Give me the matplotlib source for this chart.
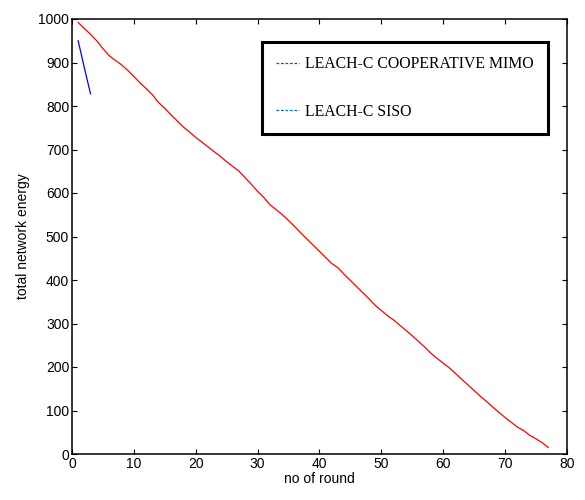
import matplotlib
matplotlib.use('Agg')
from matplotlib import pyplot as plt
from matplotlib.lines import Line2D

# total network energy per round
rounds_mimo = list(range(1, 78))
energy_mimo = [992, 978, 965, 950, 932, 916, 905, 895, 882, 868,
               853, 840, 826, 808, 795, 780, 766, 752, 740, 728,
               717, 706, 695, 684, 672, 661, 650, 635, 620, 604,
               590, 573, 562, 550, 537, 523, 508, 494, 480, 466,
               452, 438, 428, 413, 399, 385, 371, 357, 342, 330,
               318, 308, 296, 284, 272, 259, 246, 232, 220, 209,
               198, 185, 172, 159, 146, 133, 121, 108, 96, 84,
               73, 62, 54, 43, 35, 26, 15]

rounds_siso = [1, 2, 3]
energy_siso = [950, 888, 828]

labels = ['LEACH-C COOPERATIVE MIMO', 'LEACH-C SISO']

plt.rcParams['font.family'] = ['Liberation Sans', 'DejaVu Sans']

fig = plt.figure(figsize=(5.85, 5.0), dpi=100)
ax = fig.add_axes([0.123, 0.092, 0.846, 0.870])

ax.plot(rounds_mimo, energy_mimo, c='#ff0000', lw=0.9)
ax.plot(rounds_siso, energy_siso, c='#0000ff', lw=0.9)

ax.set_xlim(0, 80)
ax.set_ylim(0, 1000)
ax.set_xticks(range(0, 81, 10))
ax.set_yticks(range(0, 1001, 100))
ax.tick_params(axis='both', which='major', direction='in', length=3.5,
               width=0.8, labelsize=10, top=True, right=True, pad=2)
for s in ax.spines.values():
    s.set_linewidth(1.1)

ax.set_xlabel('no of round', fontsize=10, labelpad=1)
ax.set_ylabel('total network energy', fontsize=10, labelpad=6)

# legend with dashed handles and a heavy frame
handles = [Line2D([], [], c='#ff0000', lw=0.9, ls=(0, (2.2, 1.4))),
           Line2D([], [], c='#0070d0', lw=0.9, ls=(0, (2.2, 1.4)))]
leg = ax.legend(handles, labels, loc='upper left',
                bbox_to_anchor=(262 / 585, 1 - 42 / 500),
                bbox_transform=fig.transFigure,
                prop={'family': 'Liberation Serif', 'size': 11.3},
                handlelength=1.45, handletextpad=0.4, labelspacing=2.0,
                borderpad=0.9, borderaxespad=0, fancybox=False,
                framealpha=1)
frame = leg.get_frame()
frame.set_edgecolor('black')
frame.set_linewidth(2.2)

fig.savefig('out.png', dpi=100)
